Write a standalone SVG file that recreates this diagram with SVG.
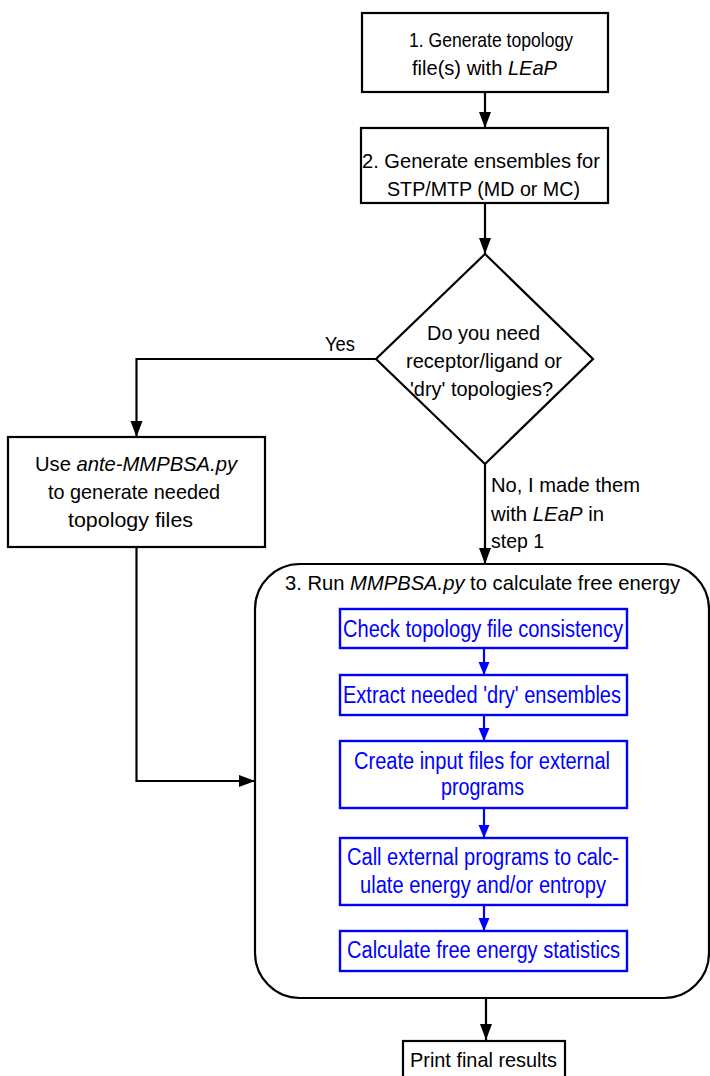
<svg xmlns="http://www.w3.org/2000/svg" width="710" height="1076" viewBox="0 0 710 1076">
  <style>
    .box { fill: #ffffff; stroke: #000000; stroke-width: 2.2; }
    .bbox { fill: #ffffff; stroke: #0000ff; stroke-width: 2.4; }
    .t { font-family: "Liberation Sans", Arial, sans-serif; font-size: 21px; fill: #000000; }
    .bt { font-family: "Liberation Sans", Arial, sans-serif; font-size: 23px; fill: #0000ff; }
    .it { font-style: italic; }
    .edge { fill: none; stroke: #000000; stroke-width: 2.2; }
    .bedge { fill: none; stroke: #0000ff; stroke-width: 2.2; }
  </style>
  <defs>
    <marker id="arrow" markerUnits="userSpaceOnUse" markerWidth="18" markerHeight="14" refX="17" refY="7" orient="auto">
      <path d="M1,1 L17,7 L1,13 Z" fill="#000000"/>
    </marker>
    <marker id="barrow" markerUnits="userSpaceOnUse" markerWidth="15" markerHeight="14" refX="14" refY="7" orient="auto">
      <path d="M1,1.5 L14,7 L1,12.5 Z" fill="#0000ff"/>
    </marker>
  </defs>
  <rect width="710" height="1076" fill="#ffffff"/>

  <!-- step 3 container (drawn first so the inner arrows sit on top) -->
  <g id="step3">
    <rect class="box" x="255" y="564" width="454" height="434" rx="45" ry="45"/>
    <text class="t" x="285" y="590" textLength="395" lengthAdjust="spacingAndGlyphs">3. Run <tspan class="it">MMPBSA.py</tspan> to calculate free energy</text>
  </g>

  <!-- connectors -->
  <g id="connectors">
    <path class="edge" d="M485,92 L485,128" marker-end="url(#arrow)"/>
    <path class="edge" d="M485,203 L485,254" marker-end="url(#arrow)"/>
    <path class="edge" d="M376,359 L136.5,359 L136.5,437" marker-end="url(#arrow)"/>
    <path class="edge" d="M485,464 L485,564" marker-end="url(#arrow)"/>
    <path class="edge" d="M136.5,547 L136.5,781 L255,781" marker-end="url(#arrow)"/>
    <path class="edge" d="M486,998 L486,1040" marker-end="url(#arrow)"/>
    <path class="bedge" d="M484,648 L484,675" marker-end="url(#barrow)"/>
    <path class="bedge" d="M484,715 L484,741" marker-end="url(#barrow)"/>
    <path class="bedge" d="M484,808 L484,838" marker-end="url(#barrow)"/>
    <path class="bedge" d="M484,905 L484,931" marker-end="url(#barrow)"/>
    <text class="t" x="325" y="351" textLength="30" lengthAdjust="spacingAndGlyphs">Yes</text>
    <text class="t" x="491" y="492" textLength="149" lengthAdjust="spacingAndGlyphs">No, I made them</text>
    <text class="t" x="491" y="521" textLength="113" lengthAdjust="spacingAndGlyphs">with <tspan class="it">LEaP</tspan> in</text>
    <text class="t" x="491" y="548" textLength="53" lengthAdjust="spacingAndGlyphs">step 1</text>
  </g>

  <!-- step 1 -->
  <g id="step1">
    <rect class="box" x="362" y="13" width="246" height="79"/>
    <text class="t" x="409" y="47" textLength="164" lengthAdjust="spacingAndGlyphs">1. Generate topology</text>
    <text class="t" x="412" y="75" textLength="145" lengthAdjust="spacingAndGlyphs">file(s) with <tspan class="it">LEaP</tspan></text>
  </g>

  <!-- step 2 -->
  <g id="step2">
    <rect class="box" x="361" y="128" width="247" height="75"/>
    <text class="t" x="362" y="168" textLength="238" lengthAdjust="spacingAndGlyphs">2. Generate ensembles for</text>
    <text class="t" x="387" y="196" textLength="193" lengthAdjust="spacingAndGlyphs">STP/MTP (MD or MC)</text>
  </g>

  <!-- decision -->
  <g id="decision">
    <polygon class="box" points="485,254 593,359 485,464 376,359"/>
    <text class="t" x="427" y="340" textLength="113" lengthAdjust="spacingAndGlyphs">Do you need</text>
    <text class="t" x="406" y="368" textLength="156" lengthAdjust="spacingAndGlyphs">receptor/ligand or</text>
    <text class="t" x="410" y="396" textLength="143" lengthAdjust="spacingAndGlyphs">'dry' topologies?</text>
  </g>

  <!-- ante-MMPBSA.py -->
  <g id="ante">
    <rect class="box" x="8" y="437" width="257" height="110"/>
    <text class="t" x="35" y="471" textLength="202" lengthAdjust="spacingAndGlyphs">Use <tspan class="it">ante-MMPBSA.py</tspan></text>
    <text class="t" x="48" y="499" textLength="172" lengthAdjust="spacingAndGlyphs">to generate needed</text>
    <text class="t" x="68" y="527" textLength="125" lengthAdjust="spacingAndGlyphs">topology files</text>
  </g>

  <g id="check">
    <rect class="bbox" x="340" y="609" width="287" height="39"/>
    <text class="bt" x="343" y="637" textLength="280" lengthAdjust="spacingAndGlyphs">Check topology file consistency</text>
  </g>

  <g id="extract">
    <rect class="bbox" x="340" y="675" width="287" height="40"/>
    <text class="bt" x="343" y="703" textLength="278" lengthAdjust="spacingAndGlyphs">Extract needed 'dry' ensembles</text>
  </g>

  <g id="create">
    <rect class="bbox" x="340" y="741" width="287" height="67"/>
    <text class="bt" x="354" y="769" textLength="256" lengthAdjust="spacingAndGlyphs">Create input files for external</text>
    <text class="bt" x="441" y="795" textLength="83" lengthAdjust="spacingAndGlyphs">programs</text>
  </g>

  <g id="call">
    <rect class="bbox" x="340" y="838" width="287" height="67"/>
    <text class="bt" x="347" y="865" textLength="272" lengthAdjust="spacingAndGlyphs">Call external programs to calc-</text>
    <text class="bt" x="360" y="893" textLength="246" lengthAdjust="spacingAndGlyphs">ulate energy and/or entropy</text>
  </g>

  <g id="stats">
    <rect class="bbox" x="340" y="931" width="287" height="40"/>
    <text class="bt" x="347" y="958" textLength="273" lengthAdjust="spacingAndGlyphs">Calculate free energy statistics</text>
  </g>

  <!-- final output -->
  <g id="print">
    <rect class="box" x="403" y="1041" width="162" height="50"/>
    <text class="t" x="410" y="1067" textLength="147" lengthAdjust="spacingAndGlyphs">Print final results</text>
  </g>
</svg>
